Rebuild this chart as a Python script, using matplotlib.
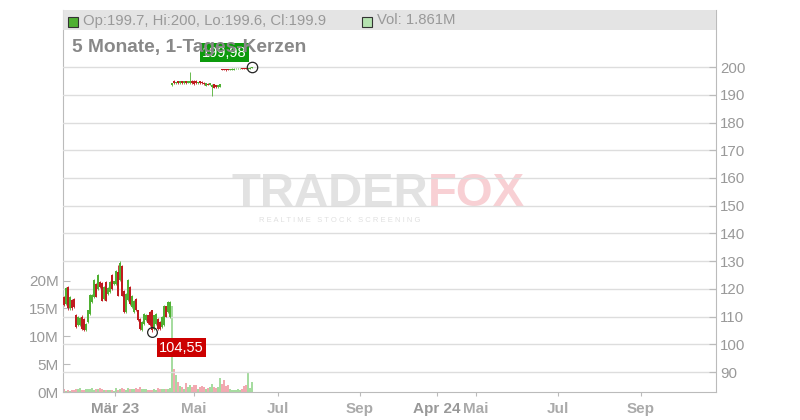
import numpy as np
import matplotlib
matplotlib.use('Agg')
import matplotlib.pyplot as plt
from matplotlib.patches import Rectangle
from matplotlib.ticker import FuncFormatter

plt.rcParams['font.family'] = ['Liberation Sans', 'DejaVu Sans']

# daily candles, Feb 2023 .. Jun 2023 (one per trading day)
opens = [117.0, 114.6, 120.8, 113.0, 116.0, 116.4, 110.6, 106.8, 106.8, 110.0,
         109.2, 105.2, 108.0, 111.0, 115.2, 117.0, 121.8, 120.0, 122.4, 122.0,
         116.4, 122.6, 118.2, 118.8, 125.0, 121.6, 121.8, 126.0, 123.2, 128.4,
         119.4, 111.6, 116.0, 120.6, 113.4, 111.6, 116.4, 112.2, 109.2, 105.0,
         107.4, 108.6, 110.4, 111.6, 112.2, 105.6, 107.4, 109.2, 108.0, 106.2,
         106.8, 113.7, 111.6, 110.0,
         193.4, 195.0, 194.1, 194.9, 194.1, 194.9, 194.1, 194.9, 194.3, 194.3,
         195.0, 195.0, 195.0, 194.1, 194.9, 194.8, 194.4, 193.3, 194.0, 193.6,
         192.8, 193.8, 193.5, 192.7, 193.0, 199.2, 199.2, 199.2, 199.3, 199.0,
         199.0, 199.1, 199.2, 199.2, 199.2, 199.5, 199.4, 199.5, 199.3, 199.4,
         199.7]
highs = [117.3, 120.5, 121.2, 117.3, 116.4, 116.7, 110.9, 110.1, 109.7, 110.4,
         109.5, 107.7, 112.5, 118.1, 118.1, 123.6, 122.1, 125.3, 122.7, 122.4,
         120.9, 122.9, 120.5, 122.7, 125.3, 122.9, 126.9, 128.7, 129.9, 128.7,
         119.7, 118.5, 123.6, 120.9, 117.9, 116.1, 116.7, 112.5, 109.5, 108.5,
         111.3, 110.9, 110.7, 111.9, 112.5, 110.7, 111.3, 109.5, 108.3, 110.1,
         114.3, 114.0, 115.5, 115.5,
         194.3, 195.2, 194.8, 195.1, 195.1, 195.1, 195.1, 195.1, 195.1, 198.3,
         195.2, 195.2, 195.2, 194.8, 195.1, 195.0, 194.6, 194.3, 194.2, 194.3,
         194.0, 194.0, 193.7, 193.7, 194.0, 199.3, 199.3, 199.3, 199.4, 199.4,
         199.5, 199.5, 199.5, 199.5, 199.5, 199.6, 199.5, 199.6, 199.6, 199.9,
         199.98]
lows = [114.0, 114.3, 112.5, 112.5, 112.5, 113.1, 105.9, 106.5, 106.5, 105.3,
        104.8, 104.9, 107.7, 110.7, 114.9, 116.7, 116.9, 119.7, 120.3, 115.5,
        116.1, 115.5, 117.9, 118.5, 119.7, 121.5, 121.5, 117.3, 122.9, 117.3,
        111.3, 111.3, 115.7, 114.3, 113.1, 111.3, 111.9, 108.3, 105.3, 104.7,
        107.1, 108.3, 107.5, 106.5, 104.55, 105.3, 107.1, 105.3, 105.3, 105.9,
        106.5, 109.7, 111.3, 109.5,
        193.1, 193.9, 193.9, 194.0, 193.9, 194.0, 193.9, 194.0, 194.1, 194.0,
        194.0, 193.6, 194.0, 193.9, 193.9, 193.9, 193.6, 193.1, 193.4, 193.4,
        189.5, 192.4, 192.5, 192.5, 192.8, 198.9, 198.9, 198.7, 198.9, 198.9,
        198.9, 199.0, 199.2, 199.2, 199.2, 199.2, 199.2, 199.3, 199.3, 199.3,
        199.6]
closes = [114.3, 120.2, 113.0, 117.0, 113.0, 113.4, 106.2, 109.8, 109.4, 105.6,
          105.1, 107.4, 112.2, 117.8, 117.8, 123.3, 117.2, 125.0, 120.6, 115.8,
          120.6, 115.8, 120.2, 122.4, 120.0, 122.7, 126.6, 117.6, 129.5, 117.6,
          111.6, 118.2, 123.3, 114.6, 117.6, 115.8, 112.2, 108.6, 105.6, 108.2,
          111.0, 110.6, 107.8, 106.8, 105.2, 110.4, 111.0, 105.6, 105.6, 109.8,
          114.0, 110.0, 115.2, 115.2,
          194.1, 194.1, 194.6, 194.2, 194.9, 194.2, 194.9, 194.2, 194.9, 195.0,
          194.2, 193.8, 194.2, 194.6, 194.1, 194.1, 193.8, 194.1, 193.6, 194.1,
          193.6, 192.6, 192.7, 193.5, 193.8, 199.0, 199.0, 198.9, 199.0, 199.3,
          199.4, 199.4, 199.4, 199.4, 199.4, 199.3, 199.3, 199.4, 199.5, 199.8,
          199.9]
# volume in millions
volumes = [0.54, 0.24, 0.30, 0.24, 0.42, 0.30, 0.48, 0.54, 0.72, 0.36,
           0.36, 0.54, 0.48, 0.54, 0.66, 0.36, 0.54, 0.48, 0.72, 0.60,
           0.30, 0.36, 0.36, 0.36, 0.36, 0.24, 0.66, 0.36, 0.54, 0.66,
           0.50, 0.40, 0.70, 0.60, 0.60, 0.50, 0.80, 0.60, 0.90, 0.50,
           0.60, 0.50, 0.40, 0.40, 0.40, 0.50, 0.40, 0.70, 0.50, 0.50,
           0.60, 0.50, 0.50, 0.70,
           15.5, 4.1, 3.0, 1.8, 1.1, 0.9, 0.6, 1.7, 0.9, 1.2,
           0.9, 1.2, 1.2, 0.6, 0.9, 1.0, 0.9, 0.6, 0.8, 0.9,
           1.5, 0.9, 0.8, 0.9, 2.6, 1.5, 2.1, 1.1, 1.2, 0.6,
           0.4, 0.4, 0.3, 0.5, 0.4, 0.6, 1.1, 1.3, 3.6, 0.8,
           1.861]

date_ticks = [25.5, 65, 107, 148, 186.5, 206, 247, 288.5]
date_labels = ['Mär 23', 'Mai', 'Jul', 'Sep', 'Apr 24', 'Mai', 'Jul', 'Sep']
price_ticks = [90, 100, 110, 120, 130, 140, 150, 160, 170, 180, 190, 200]
vol_ticks = [0, 5, 10, 15, 20]

opens = np.array(opens)
closes = np.array(closes)
x = np.arange(len(closes))
up = closes >= opens
candle_col = np.where(up, '#4fb032', '#c01a1f')
vol_col = np.where(up, '#a6dca0', '#f2a9b1')

W, H = 800, 420
fig = plt.figure(figsize=(8, 4.2), dpi=100)
ax_vol = fig.add_axes([63 / W, 28 / H, 653 / W, 382 / H])
ax = ax_vol.twinx()

# watermark
ax_vol.text(428 / W, 1 - 194 / H, 'TRADER', transform=fig.transFigure, ha='right', va='center',
            fontsize=34, fontweight='bold', color='#e2e2e2', zorder=0)
ax_vol.text(428 / W, 1 - 194 / H, 'FOX', transform=fig.transFigure, ha='left', va='center',
            fontsize=34, fontweight='bold', color='#f8d0d4', zorder=0)
ax_vol.text(340 / W, 1 - 220 / H, ' '.join('REALTIME STOCK SCREENING'), transform=fig.transFigure,
            ha='center', va='center', fontsize=5.5, color='#e0e0e0', zorder=0)

# volume
ax_vol.bar(x, volumes, width=0.55, color=vol_col, zorder=2)
ax_vol.set_ylim(0, 68.6)
ax_vol.set_yticks(vol_ticks)
ax_vol.yaxis.set_major_formatter(FuncFormatter(lambda v, _: f'{v:.0f}M'))
ax_vol.tick_params(axis='y', direction='in', length=5, color='#bbbbbb', labelcolor='#999999',
                   labelsize=11, pad=3)
ax_vol.set_xlim(-0.5, 326)
ax_vol.set_xticks(date_ticks)
ax_vol.set_xticklabels(date_labels, fontweight='bold')
for lbl in ax_vol.get_xticklabels():
    lbl.set_color('#999999' if ' ' in lbl.get_text() else '#aaaaaa')
ax_vol.tick_params(axis='x', direction='out', length=3, color='#bbbbbb', labelsize=11, pad=4)
for s in ['top', 'right']:
    ax_vol.spines[s].set_visible(False)
for s in ['left', 'bottom']:
    ax_vol.spines[s].set_color('#bbbbbb')

# candles
ax.vlines(x, lows, highs, colors=candle_col, lw=0.6, zorder=3)
ax.bar(x, np.maximum(np.abs(closes - opens), 0.25), bottom=np.minimum(opens, closes),
       width=0.55, color=candle_col, zorder=3)
ax.set_ylim(82.8, 220.6)
ax.set_yticks(price_ticks)
ax.tick_params(axis='y', direction='in', length=5, color='#bbbbbb', labelcolor='#999999',
               labelsize=10.8, pad=3)
ax.grid(True, color='#dddddd', lw=1)
ax.set_axisbelow(True)
for s in ['top', 'left', 'bottom']:
    ax.spines[s].set_visible(False)
ax.spines['right'].set_color('#bbbbbb')

# high / low markers
i_hi = int(np.argmax(highs))
i_lo = int(np.argmin(lows))
ax.plot(i_hi, highs[i_hi], 'o', mfc='none', mec='#222222', ms=7.5, mew=0.9, zorder=5)
ax.plot(i_lo, lows[i_lo], 'o', mfc='none', mec='#222222', ms=7, mew=0.9, zorder=5)
ax.annotate(f'{highs[i_hi]:.2f}'.replace('.', ','), (i_hi, highs[i_hi]), xytext=(-20, 10.5),
            textcoords='offset points', ha='center', va='center', color='white', fontsize=10.5,
            bbox=dict(boxstyle='square,pad=0.15', fc='#0c9a0c', ec='none'), zorder=6)
ax.annotate(f'{lows[i_lo]:.2f}'.replace('.', ','), (i_lo, lows[i_lo]), xytext=(21, -11.5),
            textcoords='offset points', ha='center', va='center', color='white', fontsize=10.5,
            bbox=dict(boxstyle='square,pad=0.15', fc='#cc0000', ec='none'), zorder=6)

# legend bar on top
fig.add_artist(Rectangle((63 / W, 1 - 30 / H), 653 / W, 20 / H, transform=fig.transFigure,
                         fc='#e2e2e2', ec='none', alpha=0.9, zorder=1))
fig.add_artist(Rectangle((68 / W, 1 - 27 / H), 10 / W, 10 / H, transform=fig.transFigure,
                         fc='#4fb032', ec='#333333', lw=0.8, zorder=2))
fig.text(83 / W, 1 - 20.5 / H,
         f'Op:{opens[-1]:g}, Hi:{round(highs[-1]):g}, Lo:{lows[-1]:g}, Cl:{closes[-1]:g}',
         ha='left', va='center', fontsize=10.7, color='#999999')
fig.add_artist(Rectangle((362 / W, 1 - 27 / H), 10 / W, 10 / H, transform=fig.transFigure,
                         fc='#b5e3b0', ec='#333333', lw=0.8, zorder=2))
fig.text(377 / W, 1 - 20.5 / H, f'Vol: {volumes[-1]:.3f}M', ha='left', va='center',
         fontsize=10.7, color='#999999')

fig.text(72 / W, 1 - 47 / H, '5 Monate, 1-Tages-Kerzen', ha='left', va='center',
         fontsize=13.8, fontweight='bold', color='#888888', zorder=10)

plt.savefig('out.png', dpi=100)
